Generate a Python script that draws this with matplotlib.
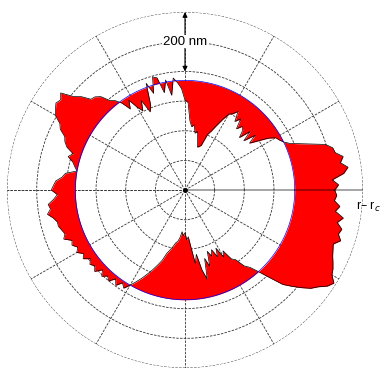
import numpy as np
import matplotlib
matplotlib.use("Agg")
from matplotlib import pyplot as plt

plt.rcParams['font.family'] = ['Liberation Sans', 'DejaVu Sans']

# radius of reference circle and outer ring (nm)
r_c = 370
r_out = 600
rings = [100, 200, 300, 400, 500]

# polar angle (deg, ccw from +x) and measured deviation r - r_c (nm)
ang = np.arange(0, 360, 2)
dev = [135, 148, 128, 168, 185, 162, 175, 152, 148, 128,
       84, 47, 17, 0, -10, -17, -40, -74, -101, -70,
       -111, -75, -115, -90, -81, -100, -65, -84, -50, -67,
       -74, -101, -128, -152, -168, -209, -216, -219, -195, -168,
       -175, -148, -155, -135, -74, -67, -27, -7, 10, -47,
       7, -34, 20, 27, -27, 13, -61, -81, -34, -67,
       -47, -13, -40, -7, 13, 24, 54, 67, 71, 101,
       121, 162, 148, 155, 145, 135, 108, 98, 74, 67,
       54, 27, 40, 20, 10, 0, 37, 47, 67, 74,
       81, 61, 74, 94, 88, 101, 84, 74, 74, 67,
       61, 71, 47, 54, 40, 51, 34, 44, 24, 37,
       27, 40, 17, 34, 20, 30, 10, 27, 7, 20,
       0, -20, -40, -61, -81, -101, -121, -148, -162, -175,
       -189, -195, -209, -229, -216, -226, -202, -212, -175, -120,
       -150, -95, -60, -130, -100, -150, -130, -150, -120, -148,
       -110, -128, -90, -80, -45, -30, 0, 40, 88, 115,
       142, 168, 185, 209, 222, 202, 195, 185, 175, 168,
       162, 182, 168, 175, 155, 172, 142, 155, 135, 142]

th = np.deg2rad(np.append(ang, 360))
r = r_c + np.append(dev, dev[0])

fig = plt.figure(figsize=(3.82, 3.68), dpi=100)
ax = fig.add_axes([0.0183, 0.0, 0.932, 0.967], projection='polar')
ax.set_ylim(0, r_out)
ax.set_axisbelow(True)

gridstyle = dict(color='#333333', lw=0.6, ls=(0, (3, 1.5)))
ax.set_rgrids(rings, labels=[''] * len(rings))
ax.set_thetagrids(np.arange(30, 360, 30), labels=[''] * 11)
ax.grid(True, **gridstyle)
ax.spines['polar'].set_visible(False)
tt = np.linspace(0, 2 * np.pi, 400)
ax.plot(tt, np.full_like(tt, r_out), **gridstyle)
ax.plot([np.pi, np.pi], [0, r_out], **gridstyle)

# deviation from the circle, filled red
ax.fill_between(th, r_c, r, color='red', lw=0, zorder=2)
ax.plot(th, r, color='black', lw=0.5, zorder=3)
ax.plot(tt, np.full_like(tt, r_c), color='blue', lw=0.5, zorder=3)

# r - r_c axis and centre
ax.plot([0, 0], [0, r_out], color='black', alpha=0.45, lw=1.1, zorder=4)
ax.plot([0], [0], 'o', color='black', ms=2.5, zorder=5)

# scale bar
ax.annotate('', xy=(np.pi / 2, r_out), xytext=(np.pi / 2, 400),
            arrowprops=dict(arrowstyle='<|-|>', lw=0.8, color='black',
                            mutation_scale=7, shrinkA=0, shrinkB=0), zorder=5)
ax.text(np.pi / 2, 500, '200 nm', ha='center', va='center', fontsize=9.5,
        bbox=dict(facecolor='white', edgecolor='none', pad=0.5), zorder=6)

ax.set_xticklabels([])
ax.set_yticklabels([])

fig.text(356 / 382, 1 - 207 / 368, 'r\u2013 r$_c$', fontsize=9, ha='left', va='center')

fig.savefig('out.png', dpi=100)
